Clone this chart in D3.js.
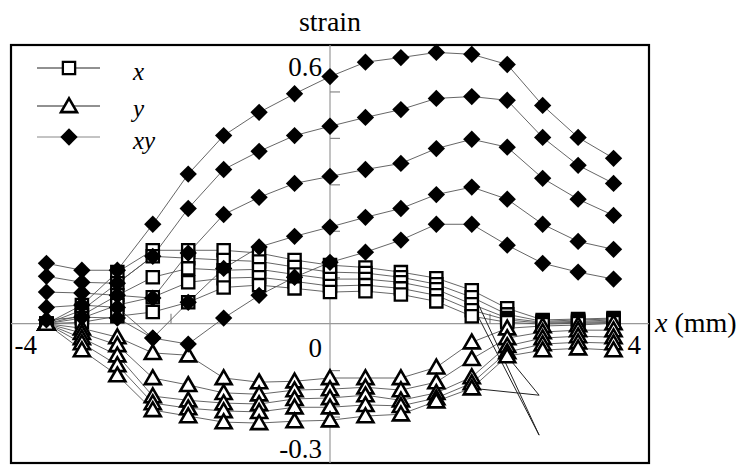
<!DOCTYPE html>
<html>
<head>
<meta charset="utf-8">
<script src="https://cdn.jsdelivr.net/npm/d3@7"></script>
<style>
  html, body { margin: 0; padding: 0; background: #fff; }
  svg { display: block; }
</style>
</head>
<body>
<svg id="chart" width="747" height="466"></svg>
<script>
// choose the first installed serif face
function pickFont(candidates) {
  const ctx = document.createElement("canvas").getContext("2d");
  const sample = "strain 0.6 -0.3 xy (mm)";
  const widthOf = f => { ctx.font = "40px " + f; return ctx.measureText(sample).width; };
  const mono = widthOf("monospace"), sans = widthOf("sans-serif");
  for (const name of candidates) {
    if (widthOf(`"${name}", monospace`) !== mono || widthOf(`"${name}", sans-serif`) !== sans) return `"${name}"`;
  }
  return "serif";
}
const FONT = pickFont(["Liberation Serif", "Tinos", "Times New Roman", "Times", "Nimbus Roman", "Nimbus Roman No9 L", "FreeSerif", "DejaVu Serif", "Noto Serif"]);

// positions along the specimen (mm)
const positions = [-4, -3.5, -3, -2.5, -2, -1.5, -1, -0.5, 0, 0.5, 1, 1.5, 2, 2.5, 3, 3.5, 4];

// normal strain x, five load levels
const strainX = [
  [0, 0.040, 0.111, 0.158, 0.158, 0.158, 0.152, 0.137, 0.126, 0.121, 0.111, 0.098, 0.072, 0.033, 0.008, 0.010, 0.012],
  [0, 0.029, 0.087, 0.145, 0.141, 0.137, 0.134, 0.122, 0.111, 0.109, 0.100, 0.085, 0.057, 0.020, 0.005, 0.008, 0.010],
  [0, 0.018, 0.061, 0.100, 0.119, 0.115, 0.117, 0.106, 0.096, 0.096, 0.089, 0.074, 0.042, 0.012, 0.003, 0.005, 0.008],
  [0, 0.012, 0.040, 0.057, 0.089, 0.098, 0.100, 0.091, 0.081, 0.083, 0.076, 0.061, 0.029, 0.008, 0.001, 0.003, 0.005],
  [0, 0.003, 0.016, 0.025, 0.046, 0.078, 0.083, 0.076, 0.068, 0.070, 0.063, 0.048, 0.016, 0.003, -0.001, 0.001, 0.003]
];

// normal strain y, five load levels
const strainY = [
  [0, -0.010, -0.029, -0.063, -0.068, -0.117, -0.126, -0.124, -0.117, -0.117, -0.117, -0.094, -0.040, -0.010, -0.005, -0.003, 0.001],
  [0, -0.020, -0.046, -0.117, -0.132, -0.149, -0.152, -0.143, -0.141, -0.137, -0.143, -0.126, -0.076, -0.031, -0.018, -0.014, -0.014],
  [0, -0.031, -0.068, -0.156, -0.165, -0.171, -0.173, -0.162, -0.160, -0.154, -0.165, -0.149, -0.115, -0.048, -0.031, -0.027, -0.029],
  [0, -0.042, -0.089, -0.171, -0.182, -0.188, -0.190, -0.180, -0.180, -0.175, -0.177, -0.160, -0.128, -0.061, -0.044, -0.040, -0.042],
  [0, -0.057, -0.111, -0.186, -0.199, -0.212, -0.214, -0.210, -0.208, -0.199, -0.195, -0.167, -0.139, -0.070, -0.057, -0.053, -0.057]
];

// shear strain xy, five load levels
const strainXY = [
  [0.130, 0.115, 0.115, 0.214, 0.322, 0.405, 0.455, 0.495, 0.532, 0.563, 0.573, 0.584, 0.580, 0.558, 0.470, 0.401, 0.356],
  [0.102, 0.089, 0.087, 0.145, 0.248, 0.332, 0.371, 0.405, 0.425, 0.444, 0.461, 0.485, 0.489, 0.481, 0.401, 0.341, 0.302],
  [0.068, 0.066, 0.061, 0.055, 0.152, 0.235, 0.272, 0.302, 0.317, 0.332, 0.345, 0.377, 0.397, 0.380, 0.313, 0.268, 0.233],
  [0.035, 0.040, 0.035, -0.031, 0.046, 0.119, 0.165, 0.188, 0.208, 0.229, 0.248, 0.278, 0.294, 0.268, 0.214, 0.177, 0.160],
  [0.008, 0.014, 0.012, -0.031, -0.044, 0.012, 0.061, 0.100, 0.132, 0.154, 0.180, 0.214, 0.214, 0.169, 0.130, 0.111, 0.096]
];

// unmarked pointer segments near x = 2..3 mm
const pointerX = [2.95, 2.95];
const pointerY = [-0.240, -0.154];
const pointerFrom = [
  { series: "x", level: 0, at: 2 },
  { series: "x", level: 2, at: 2 },
  { series: "y", level: 4, at: 2 },
  { series: "y", level: 4, at: 2.5 }
];

const legendLabels = ["x", "y", "xy"];
const yTickValues = [-0.2, -0.1, 0.1, 0.2, 0.3, 0.4, 0.5];
const xTickValues = [-2.25, 2.25];
const yEndLabels = [{ v: 0.6, t: "0.6" }, { v: 0, t: "0" }, { v: -0.3, t: "-0.3" }];
const xEndLabels = [{ v: -4, t: "-4" }, { v: 4, t: "4" }];

const svg = d3.select("#chart");
const x = d3.scaleLinear().domain([-4.5, 4.5]).range([11, 649]);
const y = d3.scaleLinear().domain([-0.3, 0.6]).range([463, 45]);

// plot frame
svg.append("rect")
  .attr("x", x(-4.5)).attr("y", y(0.6))
  .attr("width", x(4.5) - x(-4.5)).attr("height", y(-0.3) - y(0.6))
  .attr("fill", "none").attr("stroke", "#000").attr("stroke-width", 2.2);

// axes through the origin
svg.append("line")
  .attr("x1", x(-4.5)).attr("x2", x(4.5)).attr("y1", y(0)).attr("y2", y(0))
  .attr("stroke", "#999").attr("stroke-width", 1.2);
svg.append("line")
  .attr("x1", x(0)).attr("x2", x(0)).attr("y1", y(0.6)).attr("y2", y(-0.3))
  .attr("stroke", "#999").attr("stroke-width", 1.2);

const yAxis = svg.append("g")
  .attr("transform", `translate(${x(0)},0)`)
  .call(d3.axisRight(y).tickValues(yTickValues).tickSize(10).tickFormat(""));
const xAxis = svg.append("g")
  .attr("transform", `translate(0,${y(0)})`)
  .call(d3.axisTop(x).tickValues(xTickValues).tickSize(10).tickFormat(""));
[yAxis, xAxis].forEach(g => {
  g.select(".domain").remove();
  g.selectAll(".tick line").attr("stroke", "#888").attr("stroke-width", 1.2);
});

// axis end labels
svg.selectAll("text.ylab").data(yEndLabels).join("text")
  .attr("class", "ylab")
  .attr("font-family", FONT)
  .attr("x", x(0) - 8)
  .attr("y", d => d.v === 0.6 ? y(d.v) + 31 : d.v === 0 ? y(d.v) + 33 : y(d.v) - 5)
  .attr("text-anchor", "end")
  .attr("font-size", 27)
  .text(d => d.t);
svg.selectAll("text.xlab").data(xEndLabels).join("text")
  .attr("class", "xlab")
  .attr("font-family", FONT)
  .attr("x", d => d.v < 0 ? x(d.v) - 32 : x(d.v) + 14)
  .attr("y", y(0) + 30)
  .attr("font-size", 27)
  .text(d => d.t);

svg.append("text")
  .attr("font-family", FONT)
  .attr("x", x(0)).attr("y", 31)
  .attr("text-anchor", "middle").attr("font-size", 28)
  .text("strain");
const xTitle = svg.append("text")
  .attr("font-family", FONT)
  .attr("x", x(4.5) + 6).attr("y", y(0) + 8)
  .attr("font-size", 28);
xTitle.append("tspan").attr("font-style", "italic").text("x");
xTitle.append("tspan").text(" (mm)");

// marker shapes
const sq = d3.symbol().type(d3.symbolSquare).size(150)();
const tri = d3.symbol().type(d3.symbolTriangle).size(110)();
const dia = d3.symbol().type(d3.symbolSquare).size(150)();

const line = d3.line().x(d => x(d[0])).y(d => y(d[1]));
const groups = [
  { data: strainX, draw: g => g.append("path").attr("d", sq).attr("fill", "#fff").attr("stroke", "#000").attr("stroke-width", 2.3) },
  { data: strainY, draw: g => g.append("path").attr("d", tri).attr("transform", "translate(0,1.5)").attr("fill", "#fff").attr("stroke", "#000").attr("stroke-width", 2.6).attr("stroke-linejoin", "miter") },
  { data: strainXY, draw: g => g.append("path").attr("d", dia).attr("transform", "rotate(45)").attr("fill", "#000") }
];

// connecting lines
groups.forEach(grp => {
  grp.data.forEach(series => {
    svg.append("path")
      .datum(series.map((v, i) => [positions[i], v]))
      .attr("d", line)
      .attr("fill", "none").attr("stroke", "#555").attr("stroke-width", 0.9);
  });
});

// pointer segments (no markers at their ends)
pointerFrom.forEach(p => {
  const src = p.series === "x" ? strainX : strainY;
  const idx = positions.indexOf(p.at);
  const k = p.series === "x" ? 0 : 1;
  svg.append("path")
    .datum([[p.at, src[p.level][idx]], [pointerX[k], pointerY[k]]])
    .attr("d", line)
    .attr("fill", "none").attr("stroke", "#222").attr("stroke-width", 1);
});

// markers
groups.forEach(grp => {
  grp.data.forEach(series => {
    svg.append("g").selectAll("g").data(series.map((v, i) => [positions[i], v])).join("g")
      .attr("transform", d => `translate(${x(d[0])},${y(d[1])})`)
      .each(function () { grp.draw(d3.select(this)); });
  });
});

// legend
const legendRows = [
  { label: legendLabels[0], cy: 68, tb: 80, stroke: "#222" },
  { label: legendLabels[1], cy: 106, tb: 117, stroke: "#222" },
  { label: legendLabels[2], cy: 137, tb: 149, stroke: "#888" }
];
legendRows.forEach((r, i) => {
  svg.append("line").attr("x1", 37).attr("x2", 100).attr("y1", r.cy).attr("y2", r.cy)
    .attr("stroke", r.stroke).attr("stroke-width", 1);
  const g = svg.append("g").attr("transform", `translate(69,${r.cy})`);
  groups[i].draw(g);
  svg.append("text").attr("x", 133).attr("y", r.tb)
    .attr("font-family", FONT)
    .attr("font-size", 25).attr("font-style", "italic").text(r.label);
});
</script>
</body>
</html>
